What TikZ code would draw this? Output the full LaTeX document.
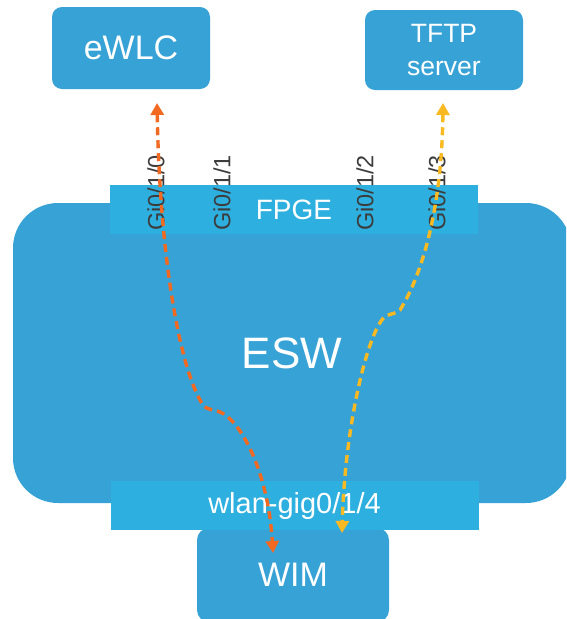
\documentclass[tikz,border=0pt]{standalone}
\usepackage{fontspec}
\setmainfont{Liberation Sans}
\usetikzlibrary{arrows.meta}
\definecolor{eswblue}{RGB}{54,162,214}
\definecolor{barblue}{RGB}{45,176,224}
\definecolor{flowred}{RGB}{242,106,33}
\definecolor{flowyellow}{RGB}{249,185,33}
\definecolor{portgray}{RGB}{60,60,60}
\newcommand{\fsz}[1]{\fontsize{#1}{#1}\selectfont}

\begin{document}
\begin{tikzpicture}[x=1pt,y=-1pt,
  box/.style={fill=eswblue,rounded corners=10pt,text=white,inner sep=0pt},
  bar/.style={fill=barblue,text=white,inner sep=0pt,minimum width=368pt,minimum height=49pt},
  portlabel/.style={rotate=90,anchor=west,inner sep=0pt,text=portgray,font=\fsz{23.5}},
  flow/.style={line width=3.4pt,dash pattern=on 8pt off 5pt,>={Triangle[width=13pt,length=12pt]},<->}]
  \useasboundingbox (0,0) rectangle (566,619);
  \clip (0,0) rectangle (566,619);
  %% Switch and its ports
  \node[box,rounded corners=45pt,minimum width=558pt,minimum height=300pt,font=\fsz{44}]
        (esw) at (292,353) {ESW};
  \node[bar,font=\fsz{28}] (fpge) at (294,209.5) {FPGE};
  \node[box,rounded corners=12pt,minimum width=192pt,minimum height=94pt,font=\fsz{34}]
        (wim) at (293,575) {WIM};
  \node[bar,font=\fsz{29}] (wlan) at (294.5,505.5) {wlan-gig0/1/4};
  %% Outside boxes
  \node[box,minimum width=158pt,minimum height=82pt,font=\fsz{34}]
        (ewlc) at (131,48) {eWLC};
  \node[box,minimum width=158pt,minimum height=80pt,align=center,font=\fontsize{26.5}{33}\selectfont]
        (tftp) at (444,50) {TFTP\\server};
  %% Port labels
  \node[portlabel] (gi0) at (156,231) {Gi0/1/0};
  \node[portlabel] (gi1) at (222,231) {Gi0/1/1};
  \node[portlabel] (gi2) at (365,231) {Gi0/1/2};
  \node[portlabel] (gi3) at (437,231) {Gi0/1/3};
  %% Flow end points and bends
  \coordinate (wlcend)  at (157,103);
  \coordinate (redbend) at (203,405);
  \coordinate (redstep) at (220,412);
  \coordinate (wimred)  at (273,553);
  \coordinate (tftpend) at (443,103);
  \coordinate (yelbend) at (400,310);
  \coordinate (yelstep) at (386,316);
  \coordinate (wimyel)  at (342,533);
  %% Flows
  \draw[flow,flowred] (wlcend) .. controls (160,260) and (180,370) .. (redbend)
        .. controls (207,410) and (212,409) .. (redstep)
        .. controls (240,420) and (268,470) .. (wimred);
  \draw[flow,flowyellow] (tftpend) .. controls (442,200) and (425,270) .. (yelbend)
        .. controls (396,314) and (392,313) .. (yelstep)
        .. controls (370,325) and (345,420) .. (wimyel);
\end{tikzpicture}
\end{document}
